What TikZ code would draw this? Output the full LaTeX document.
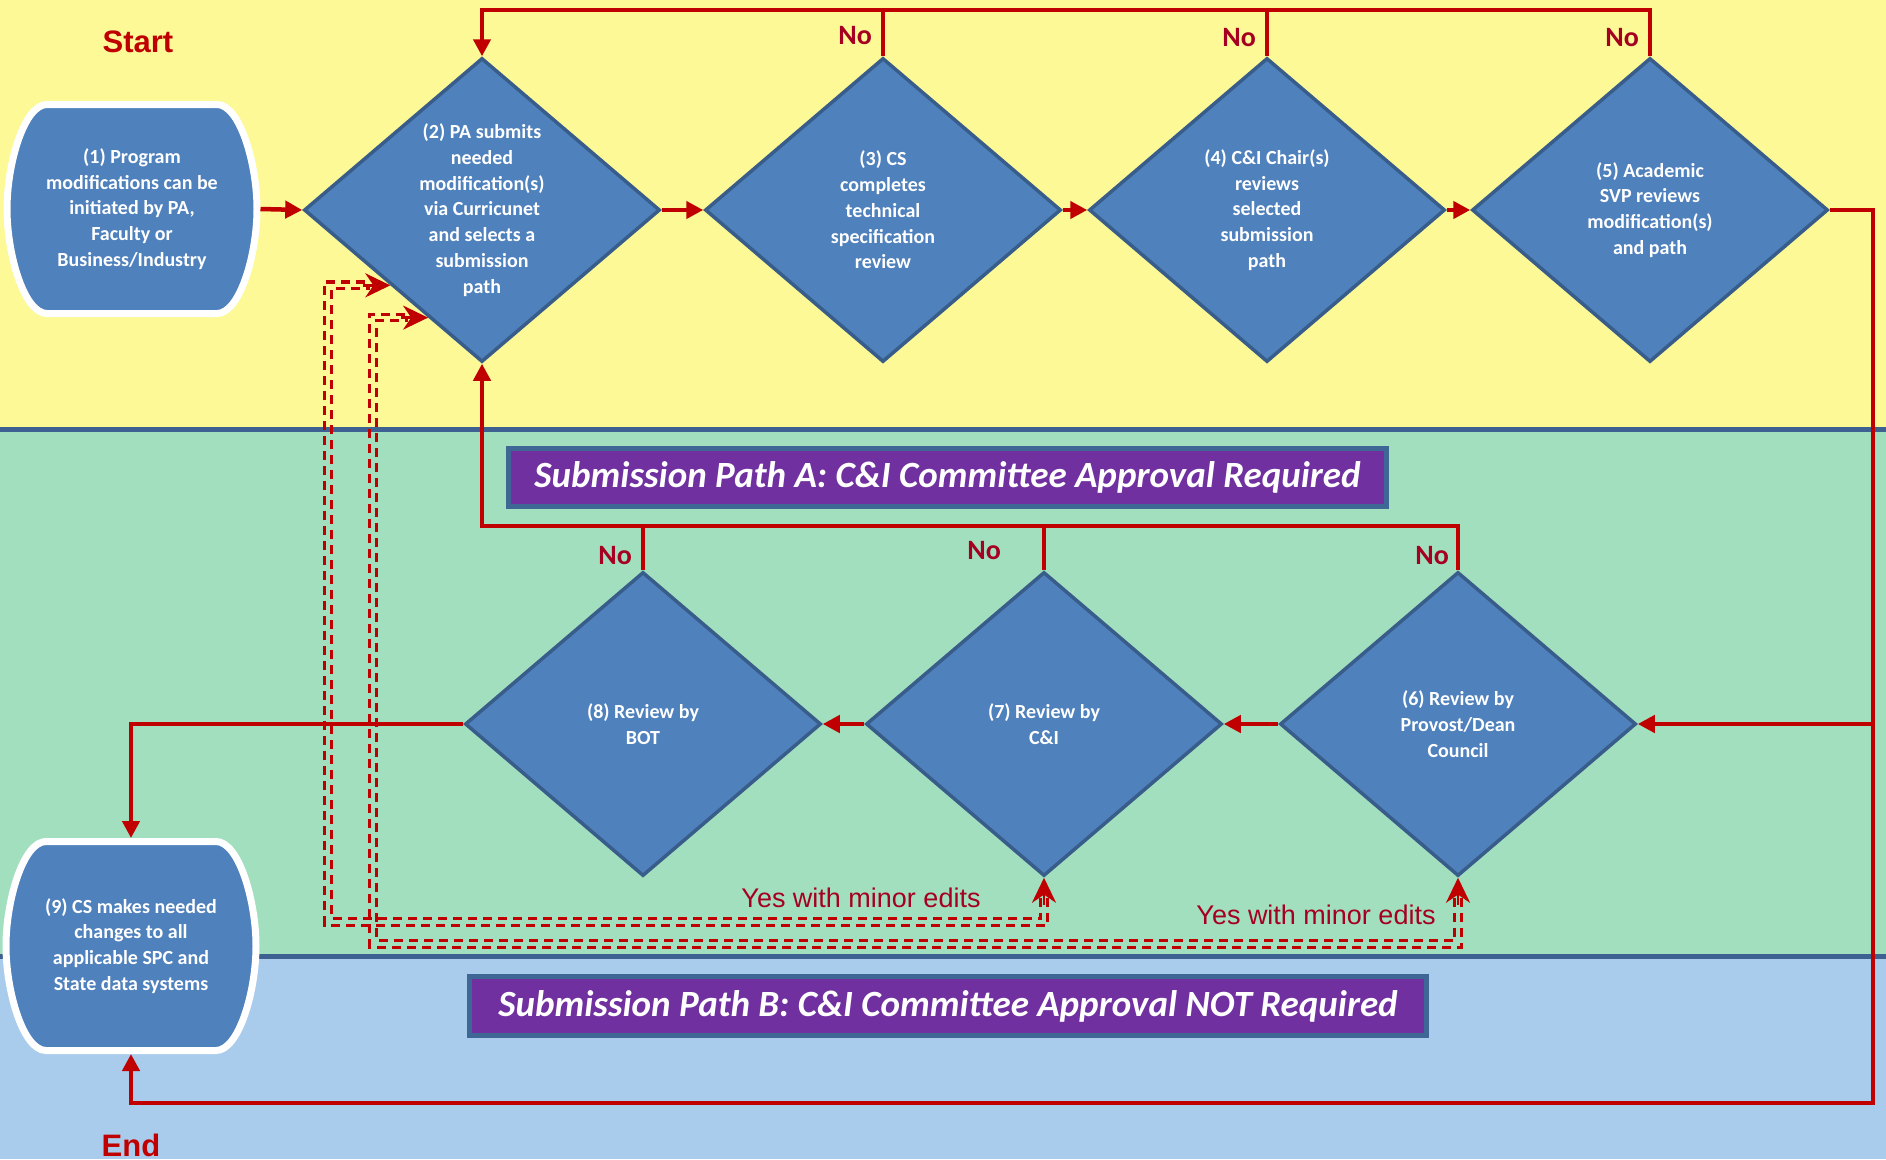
\documentclass[tikz,border=0pt]{standalone}
\usepackage{fontspec}
\setmainfont{Carlito}
\newfontfamily\arialf{Liberation Sans}
\usetikzlibrary{shapes.geometric,arrows.meta,calc}
\definecolor{laneY}{HTML}{FCF996}
\definecolor{laneG}{HTML}{A2DFBE}
\definecolor{laneB}{HTML}{A9CCEC}
\definecolor{laneLine}{HTML}{3D6190}
\definecolor{boxBlue}{HTML}{4F81BD}
\definecolor{boxEdge}{HTML}{385D8A}
\definecolor{lineRed}{HTML}{C00000}
\definecolor{lblRed}{HTML}{A50021}
\definecolor{banPurple}{HTML}{7030A0}
\definecolor{banEdge}{HTML}{3F6796}
\tikzset{
  dia/.style={diamond, fill=boxBlue, draw=boxEdge, line width=3.5pt, inner sep=0pt,
    minimum width=356pt, minimum height=304pt},
  dtext/.style={text=white, font=\bfseries\fontsize{20}{25.8}\selectfont, align=center, inner sep=0pt},
  termbox/.style={rectangle, draw=none, inner sep=0pt, outer sep=3.5pt,
    minimum width=250pt, minimum height=209pt},
  termshape/.style={fill=boxBlue, draw=white, line width=7pt},
  flow/.style={draw=lineRed, line width=4.5pt, -{Triangle[length=17pt,width=17pt]}},
  redline/.style={draw=lineRed, line width=4.5pt},
  dashline/.style={draw=lineRed, line width=3.1pt, dash pattern=on 9pt off 6pt},
  dashtip/.style={draw=lineRed, line width=2.8pt, -{Stealth[length=25pt,width=24pt]}},
  noLbl/.style={text=lblRed, font=\bfseries\fontsize{28}{30}\selectfont, inner sep=0pt},
  yesLbl/.style={text=lblRed, font=\arialf\fontsize{27}{30}\selectfont, inner sep=0pt},
  endLbl/.style={text=lineRed, font=\arialf\bfseries\fontsize{31}{34}\selectfont, inner sep=0pt},
  banner/.style={fill=banPurple, draw=banEdge, line width=5pt, text=white,
    font=\bfseries\itshape\fontsize{37}{40}\selectfont, inner sep=0pt}
}
\newcommand\termpath[1]{%
  \path[termshape] ($(#1)+(-85,-104.5)$) -- ($(#1)+(85,-104.5)$)
    .. controls ($(#1)+(108,-104.5)$) and ($(#1)+(125,-45)$) .. ($(#1)+(125,0)$)
    .. controls ($(#1)+(125,45)$) and ($(#1)+(108,104.5)$) .. ($(#1)+(85,104.5)$)
    -- ($(#1)+(-85,104.5)$)
    .. controls ($(#1)+(-108,104.5)$) and ($(#1)+(-125,45)$) .. ($(#1)+(-125,0)$)
    .. controls ($(#1)+(-125,-45)$) and ($(#1)+(-108,-104.5)$) .. ($(#1)+(-85,-104.5)$)
    -- cycle;}
\begin{document}
\begin{tikzpicture}[x=1pt,y=-1pt]
\useasboundingbox (0,0) rectangle (1886,1159);
% lanes
\fill[laneY] (0,0) rectangle (1886,429);
\fill[laneG] (0,429) rectangle (1886,956);
\fill[laneB] (0,956) rectangle (1886,1159);
\draw[laneLine, line width=5pt] (0,429) -- (1886,429);
\draw[laneLine, line width=5pt] (0,956) -- (1886,956);

% banners
\node[banner, minimum width=878pt, minimum height=58pt] (banA) at (947.5,477.5)
  {Submission Path A: C\&I Committee Approval Required};
\node[banner, minimum width=957pt, minimum height=59pt] (banB) at (948,1006)
  {Submission Path B: C\&I Committee Approval NOT Required};

% terminal nodes
\node[termbox] (n1) at (132,209) {};
\termpath{n1.center}
\node[dtext] (t1) at (n1.center) {(1) Program\\modifications can be\\initiated by PA,\\Faculty or\\Business/Industry};
\node[termbox] (n9) at (131,946) {};
\termpath{n9.center}
\node[dtext] (t9) at (n9.center) {(9) CS makes needed\\changes to all\\applicable SPC and\\State data systems};

% diamonds
\node[dia] (d2) at (482,210) {};
\node[dtext] (t2) at (d2) {(2) PA submits\\needed\\modification(s)\\via Curricunet\\and selects a\\submission\\path};
\node[dia] (d3) at (883,210) {};
\node[dtext] (t3) at (d3) {(3) CS\\completes\\technical\\specification\\review};
\node[dia] (d4) at (1267,210) {};
\node[dtext] (t4) at (d4) {(4) C\&I Chair(s)\\reviews\\selected\\submission\\path};
\node[dia] (d5) at (1650,210) {};
\node[dtext] (t5) at (d5) {(5) Academic\\SVP reviews\\modification(s)\\and path};
\node[dia] (d8) at (643,724) {};
\node[dtext] (t8) at (d8) {(8) Review by\\BOT};
\node[dia] (d7) at (1044,724) {};
\node[dtext] (t7) at (d7) {(7) Review by\\C\&I};
\node[dia] (d6) at (1458,724) {};
\node[dtext] (t6) at (d6) {(6) Review by\\Provost/Dean\\Council};

% labels
\node[endLbl] (start) at (138,42) {Start};
\node[endLbl] (end) at (131,1145) {End};
\node[noLbl, anchor=east] (no3) at (872,36) {No};
\node[noLbl, anchor=east] (no4) at (1256,38) {No};
\node[noLbl, anchor=east] (no5) at (1639,38) {No};
\node[noLbl, anchor=east] (no8) at (632,556) {No};
\node[noLbl, anchor=east] (no7) at (1001,551) {No};
\node[noLbl, anchor=east] (no6) at (1449,556) {No};
\node[yesLbl] (yes1) at (861,898) {Yes with minor edits};
\node[yesLbl] (yes2) at (1316,915) {Yes with minor edits};

% helper coordinates
\coordinate (topY) at (0,10);
\coordinate (loopY) at (0,526);
\coordinate (rightX) at (1873,0);
\coordinate (botY) at (0,1103);

% main flow
\draw[flow] (n1.east) -- (d2.west);
\draw[flow] (d2.east) -- (d3.west);
\draw[flow] (d3.east) -- (d4.west);
\draw[flow] (d4.east) -- (d5.west);
\draw[flow] (d5.east) -- (d5.east -| rightX) -- (rightX |- botY) -- (n9.south |- botY) -- (n9.south);
\draw[flow] (rightX |- d6.east) -- (d6.east);
\draw[flow] (d6.west) -- (d7.east);
\draw[flow] (d7.west) -- (d8.east);
\draw[flow] (d8.west) -- (d8.west -| n9.north) -- (n9.north);

% "No" loops
\draw[flow] (d5.north) -- (d5.north |- topY) -- (d2.north |- topY) -- (d2.north);
\draw[redline] (d3.north) -- (d3.north |- topY);
\draw[redline] (d4.north) -- (d4.north |- topY);
\draw[flow] (d6.north) -- (d6.north |- loopY) -- (d2.south |- loopY) -- (d2.south);
\draw[redline] (d7.north) -- (d7.north |- loopY);
\draw[redline] (d8.north) -- (d8.north |- loopY);

% "Yes with minor edits" double dashed paths
\coordinate (e1) at ($(d2.west)!0.49!(d2.south)$);
\coordinate (e2) at ($(d2.west)!0.70!(d2.south)$);
\coordinate (B1) at (1044,922);
\coordinate (C1) at (328,922);
\coordinate (D1) at (C1 |- e1);
\coordinate (B2) at (1458,944);
\coordinate (C2) at (373,944);
\coordinate (D2) at (C2 |- e2);
\foreach \s/\t in {3.3/-3.3,-3.3/3.3}{
  \draw[dashline] ($(d7.south)+(\t,20)$) -- ($(d7.south |- B1)+(\t,\t)$) -- ($(C1)+(\s,\t)$)
     -- ($(D1)+(\s,\s)$) -- ($(e1)+(-20,\s)$);
  \draw[dashline] ($(d6.south)+(\t,20)$) -- ($(d6.south |- B2)+(\t,\t)$) -- ($(C2)+(\s,\t)$)
     -- ($(D2)+(\s,\s)$) -- ($(e2)+(-20,\s)$);
}
\draw[dashtip] ($(d7.south)+(0,27)$) -- (d7.south);
\draw[dashtip] ($(d6.south)+(0,27)$) -- (d6.south);
\draw[dashtip] ($(e1)+(-27,0)$) -- (e1);
\draw[dashtip] ($(e2)+(-27,0)$) -- (e2);
\end{tikzpicture}
\end{document}
